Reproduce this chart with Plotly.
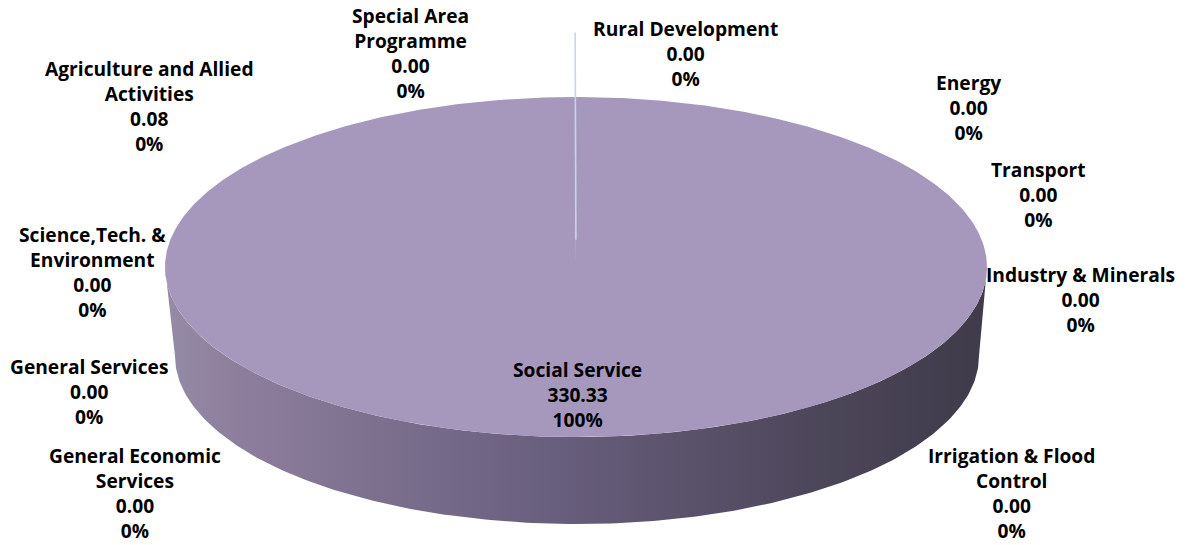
import numpy as np
import plotly.graph_objects as go

# ---------------- data ----------------
categories = [
    "Rural Development", "Energy", "Transport", "Industry & Minerals",
    "Irrigation & Flood Control", "Social Service", "General Economic Services",
    "General Services", "Science,Tech. & Environment",
    "Agriculture and Allied Activities", "Special Area Programme",
]
values = [0.00, 0.00, 0.00, 0.00, 0.00, 330.33, 0.00, 0.00, 0.00, 0.08, 0.00]

# ---------------- layout / style (not data) ----------------
W, H = 1185, 545
CX, CY, A, B = 576, 267, 411, 170          # top face ellipse
BCX, BCY, BA, BB = 577, 356, 402, 168      # bottom rim ellipse (perspective)
TOP_COLOR = "#A698BD"
WALL_SCALE = [[0.0, "#958CA6"], [0.08, "#8E7F9D"], [0.45, "#6A6080"],
              [0.8, "#4C4659"], [1.0, "#3F3B4A"]]
SLIVER_COLOR = "#C9D5E3"
FONT = dict(family="'Open Sans', sans-serif", size=19.2, color="#000000")
LINE_STEP = 1.3 * FONT["size"]   # plotly's multi-line spacing

# words on first line of wrapped labels
wrap_words = {
    "Agriculture and Allied Activities": 3,
    "Special Area Programme": 2,
    "Science,Tech. & Environment": 2,
    "General Economic Services": 2,
    "Irrigation & Flood Control": 3,
}
# label block anchor: (centre x, first line y) in pixels
label_pos = {
    "Rural Development": (685, 29),
    "Energy": (968, 83),
    "Transport": (1038, 170),
    "Industry & Minerals": (1080, 275),
    "Irrigation & Flood Control": (1011, 456),
    "Social Service": (577, 370),
    "General Economic Services": (135, 456),
    "General Services": (89, 367),
    "Science,Tech. & Environment": (92, 235),
    "Agriculture and Allied Activities": (149, 69),
    "Special Area Programme": (410, 16),
}


def ell(theta_deg, cx, cy, a, b, r=1.0):
    t = np.radians(theta_deg)
    return cx + r * a * np.sin(t), cy - r * b * np.cos(t)


total = float(sum(values))
fracs = [v / total for v in values]
starts = np.concatenate([[0.0], np.cumsum(fracs)[:-1]]) * 360.0
ends = np.cumsum(fracs) * 360.0

fig = go.Figure()

# side wall (front half, 90..270 deg clockwise from top)
for name, v, t0, t1 in zip(categories, values, starts, ends):
    lo, hi = max(t0, 90.0), min(t1, 270.0)
    if v <= 0 or hi <= lo:
        continue
    th = np.linspace(lo, hi, 240)
    xt, yt = ell(th, CX, CY, A, B)
    xb, yb = ell(th[::-1], BCX, BCY, BA, BB)
    fig.add_trace(go.Scatter(
        x=np.concatenate([xt, xb, xt[:1]]), y=np.concatenate([yt, yb, yt[:1]]),
        mode="lines", line=dict(width=0), fill="toself",
        fillgradient=dict(type="horizontal", colorscale=WALL_SCALE),
        hoverinfo="skip", showlegend=False))

# top face sectors
for name, v, t0, t1 in zip(categories, values, starts, ends):
    if v <= 0:
        continue
    th = np.linspace(t0, t1, max(4, int((t1 - t0) * 2)))
    xs, ys = ell(th, CX, CY, A, B)
    big = (t1 - t0) > 1.0
    fig.add_trace(go.Scatter(
        x=np.concatenate([[CX], xs, [CX]]), y=np.concatenate([[CY], ys, [CY]]),
        mode="lines", line=dict(width=0), fill="toself",
        fillcolor=TOP_COLOR if big else SLIVER_COLOR,
        name=name, hoverinfo="name", showlegend=False))
    if not big:
        # thin slice edge line for the sliver
        xl, yl = ell(np.array([t0, t0]), CX, CY, A, B, r=np.array([0.16, 1.38]))
        fig.add_trace(go.Scatter(x=xl, y=yl, mode="lines",
                                 line=dict(color=SLIVER_COLOR, width=1.6),
                                 hoverinfo="skip", showlegend=False))

# data labels
annotations = []
for name, v in zip(categories, values):
    words = name.split(" ")
    k = wrap_words.get(name)
    lines = [" ".join(words[:k]), " ".join(words[k:])] if k else [name]
    lines += [f"{v:.2f}", f"{100 * v / total:.0f}%"]
    x0, y0 = label_pos[name]
    yc = y0 + (len(lines) - 1) * LINE_STEP / 2.0
    annotations.append(dict(x=x0, y=yc, xref="x", yref="y",
                            text="<br>".join(f"<b>{ln}</b>" for ln in lines),
                            showarrow=False, align="center",
                            xanchor="center", yanchor="middle", font=FONT))

fig.update_layout(
    width=W, height=H, margin=dict(l=0, r=0, t=0, b=0),
    paper_bgcolor="white", plot_bgcolor="white", showlegend=False,
    xaxis=dict(range=[0, W], visible=False, fixedrange=True),
    yaxis=dict(range=[H, 0], visible=False, fixedrange=True),
    annotations=annotations,
)

fig.write_html("out.html")
